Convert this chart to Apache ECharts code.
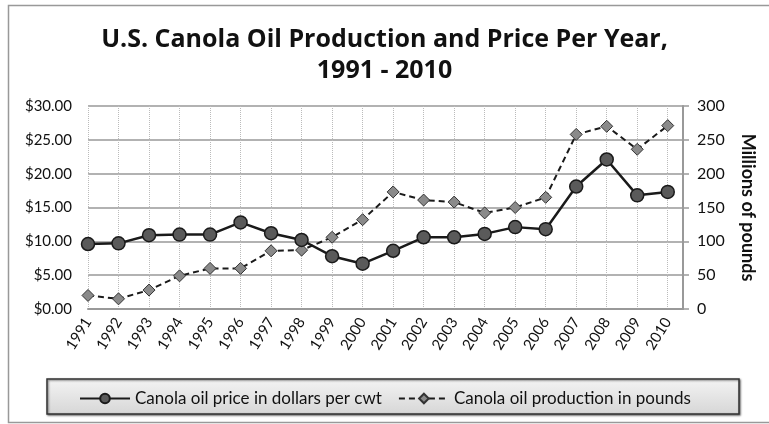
<!DOCTYPE html>
<html>
<head>
<meta charset="utf-8">
<script src="https://cdn.jsdelivr.net/npm/echarts@6/dist/echarts.min.js"></script>
<style>html,body{margin:0;padding:0;background:#fff}#c{width:769px;height:424px}</style>
</head>
<body>
<div id="c"></div>
<script>
const years = [1991,1992,1993,1994,1995,1996,1997,1998,1999,2000,2001,2002,2003,2004,2005,2006,2007,2008,2009,2010];
const price = [9.6,9.7,10.9,11.0,11.0,12.8,11.2,10.2,7.8,6.7,8.6,10.6,10.6,11.1,12.1,11.8,18.1,22.1,16.8,17.3];
const production = [20,15,28,49,60,60,86,87,106,132,173,161,158,142,150,165,258,270,236,271];
const leftTicks = [0,5,10,15,20,25,30];
const rightTicks = [0,50,100,150,200,250,300];

const FONT = 'Lato, "Open Sans", sans-serif';
const chart = echarts.init(document.getElementById('c'), null, {renderer:'canvas'});
chart.setOption({
  backgroundColor:'#fff',
  animation:false,
  title:{
    text:'U.S. Canola Oil Production and Price Per Year,\n1991 - 2010',
    left:'center', top:19,
    textStyle:{fontFamily:'"Open Sans", Lato, sans-serif', fontWeight:'bold', fontSize:25, color:'#111', lineHeight:31}
  },
  graphic:[
    {type:'rect', shape:{x:8.5,y:5.5,width:780,height:417}, style:{fill:'none', stroke:'#999', lineWidth:1.5}, silent:true, z:-10},
    {type:'rect', shape:{x:47,y:379,width:692,height:35}, style:{
      fill:new echarts.graphic.LinearGradient(0,0,0,1,[{offset:0,color:'#f4f4f4'},{offset:1,color:'#d6d6d6'}]),
      stroke:'#333', lineWidth:1.5, shadowColor:'rgba(0,0,0,0.5)', shadowBlur:2, shadowOffsetX:1, shadowOffsetY:1}, silent:true, z:0}
  ],
  legend:{
    left:74, top:385, itemWidth:50, itemHeight:12, itemGap:16,
    textStyle:{fontFamily:FONT, fontSize:17, color:'#111'},
    data:['Canola oil price in dollars per cwt','Canola oil production in pounds'],
    z:5
  },
  grid:{left:88, right:86, top:106, bottom:115, containLabel:false},
  xAxis:{
    type:'value', min:1991, max:2010.5, interval:1,
    axisLine:{show:true, onZero:false, lineStyle:{color:'#999', width:2}},
    axisTick:{show:false},
    splitLine:{show:true, lineStyle:{color:'#bbb', type:'dotted', width:1}},
    axisLabel:{rotate:58, margin:10, fontFamily:FONT, fontSize:15, color:'#111',
      formatter:function(v){ return years.indexOf(v) >= 0 ? String(v) : ''; },
      showMaxLabel:false}
  },
  yAxis:[
    {type:'value', min:0, max:30, interval:5, position:'left',
      axisLine:{show:false}, axisTick:{show:false},
      splitLine:{show:true, lineStyle:{color:'#999', width:1.5}},
      axisLabel:{margin:16, fontFamily:FONT, fontSize:15, color:'#111', formatter:function(v){return '$'+v.toFixed(2);}}
    },
    {type:'value', min:0, max:300, interval:50, position:'right',
      name:'Millions of pounds', nameLocation:'middle', nameRotate:-90, nameGap:56,
      nameTextStyle:{fontFamily:FONT, fontWeight:'bold', fontSize:18, color:'#111'},
      axisLine:{show:true, lineStyle:{color:'#999', width:2}},
      axisTick:{show:true, length:6, lineStyle:{color:'#999', width:1.5}},
      splitLine:{show:false},
      axisLabel:{margin:14, fontFamily:FONT, fontSize:16, color:'#111'}
    }
  ],
  series:[
    {name:'Canola oil price in dollars per cwt', type:'line', yAxisIndex:0,
      data:years.map((y,i)=>[y,price[i]]),
      symbol:'circle', symbolSize:13,
      lineStyle:{color:'#1a1a1a', width:2.5},
      itemStyle:{color:'#5a5a5a', borderColor:'#1a1a1a', borderWidth:1.5}, z:3},
    {name:'Canola oil production in pounds', type:'line', yAxisIndex:1,
      data:years.map((y,i)=>[y,production[i]]),
      symbol:'diamond', symbolSize:12,
      lineStyle:{color:'#1a1a1a', width:2, type:[6,4]},
      itemStyle:{color:'#8a8a8a', borderColor:'#333', borderWidth:1}, z:2}
  ]
});
</script>
</body>
</html>
